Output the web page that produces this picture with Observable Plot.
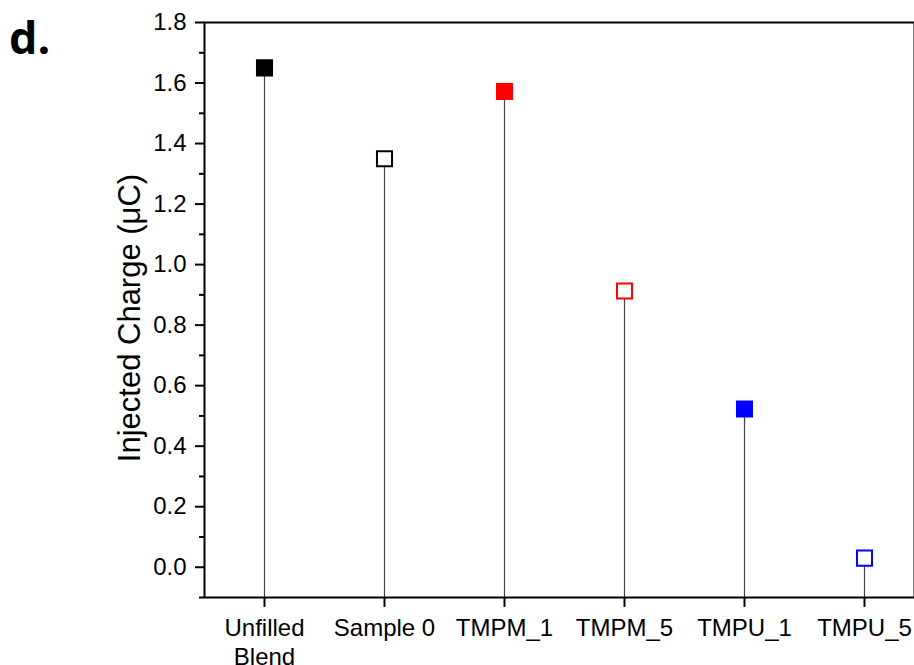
<!DOCTYPE html>
<html>
<head>
<meta charset="utf-8">
<script src="https://cdn.jsdelivr.net/npm/d3@7"></script>
<script src="https://cdn.jsdelivr.net/npm/@observablehq/plot@0.6"></script>
<style>
  html, body { margin: 0; padding: 0; background: #fff; }
  #chart { position: relative; width: 914px; height: 665px; overflow: hidden; }
  #panel { position: absolute; left: 9px; top: 6px; font: bold 45px "Open Sans", "Liberation Sans", sans-serif; }
</style>
</head>
<body>
<div id="chart"><div id="panel">d.</div></div>
<script>
const categories = ["Unfilled\nBlend", "Sample 0", "TMPM_1", "TMPM_5", "TMPU_1", "TMPU_5"];
const values = [1.65, 1.35, 1.572, 0.913, 0.523, 0.030];
const colors = ["#000000", "#000000", "#ff0000", "#ff0000", "#0000ff", "#0000ff"];
const filled = [true, false, true, false, true, false];
const majorTicks = [0, 0.2, 0.4, 0.6, 0.8, 1.0, 1.2, 1.4, 1.6, 1.8];
const minorTicks = [-0.1, 0.1, 0.3, 0.5, 0.7, 0.9, 1.1, 1.3, 1.5, 1.7];

const data = categories.map((c, i) => ({cat: c, value: values[i], color: colors[i], filled: filled[i]}));

const font = "'Liberation Sans', Arial, sans-serif";

const chart = Plot.plot({
  width: 914,
  height: 665,
  marginTop: 22,
  marginBottom: 68,
  marginLeft: 204,
  marginRight: 0,
  style: {fontFamily: font, background: "white"},
  x: {type: "band", domain: categories, range: [204, 924], padding: 0},
  y: {domain: [-0.1, 1.8]},
  marks: [
    Plot.axisY(minorTicks, {tickSize: 5, tickFormat: () => "", strokeWidth: 2, label: null}),
    Plot.axisY(majorTicks, {tickSize: 9, tickPadding: 9, tickFormat: d3.format(".1f"), fontSize: 24, strokeWidth: 2, label: null, fill: "black"}),
    Plot.axisX({tickSize: 10, tickPadding: 8, fontSize: 24, strokeWidth: 2, label: null, lineHeight: 1.2, fill: "black"}),
    Plot.ruleX(data, {x: "cat", y1: -0.1, y2: "value", stroke: "#444", strokeWidth: 1.2}),
    Plot.frame({stroke: "black", strokeWidth: 2}),
    Plot.dot(data, {
      x: "cat", y: "value", symbol: "square", r: 8.5,
      fill: d => d.filled ? d.color : "white",
      stroke: "color", strokeWidth: 2
    }),
    Plot.text(["Injected Charge (\u03bcC)"], {
      frameAnchor: "left", dx: -74, dy: 8, rotate: -90,
      fontSize: 31, fill: "black", textAnchor: "middle"
    })
  ]
});
document.getElementById("chart").prepend(chart);
</script>
</body>
</html>
